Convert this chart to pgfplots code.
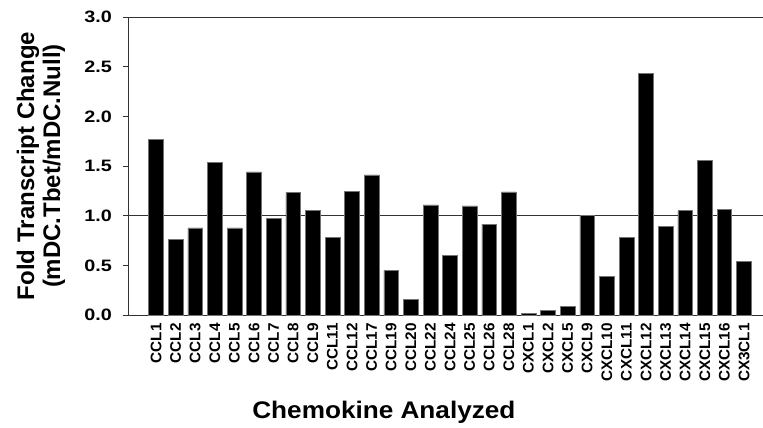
\documentclass[border=0pt]{standalone}
\usepackage{fontspec}
\setmainfont{Liberation Sans}
\newfontfamily\wideA[FakeStretch=1.2]{Liberation Sans}
\newfontfamily\wideB[FakeStretch=1.09]{Liberation Sans}
\usepackage{pgfplots}
\pgfplotsset{compat=1.18}
\begin{document}
\begin{tikzpicture}
\path[use as bounding box] (-128pt,-113pt) rectangle (635pt,315pt);
\begin{axis}[
  scale only axis,
  width=635pt, height=298pt,
  xmin=-1.43, xmax=30.97,
  ymin=0, ymax=3,
  axis x line=bottom, axis y line=left,
  axis line style={-, black!80, line width=0.8pt},
  ytick={0,0.5,...,3.0},
  xtick={0,...,30},
  xticklabels={CCL1,CCL2,CCL3,CCL4,CCL5,CCL6,CCL7,CCL8,CCL9,CCL11,CCL12,CCL17,CCL19,CCL20,CCL22,CCL24,CCL25,CCL26,CCL28,CXCL1,CXCL2,CXCL5,CXCL9,CXCL10,CXCL11,CXCL12,CXCL13,CXCL14,CXCL15,CXCL16,CX3CL1},
  x tick style={draw=none},
  y tick style={black!80, line width=0.8pt},
  tick align=outside,
  major tick length=5pt,
  /pgf/number format/assume math mode=true,
  yticklabel style={/pgf/number format/.cd, fixed, fixed zerofill, precision=1, /tikz/.cd, font=\wideA\bfseries\fontsize{16.5}{18}\selectfont, inner sep=0pt, xshift=-11pt},
  xticklabel style={rotate=90, anchor=east, inner sep=0pt, xshift=-3pt, font=\bfseries\fontsize{15.3}{17}\selectfont},
  extra y ticks={1,3},
  extra y tick labels={},
  extra y tick style={grid=major, major grid style={black!80, line width=0.8pt}, major tick length=0pt},
  ylabel={Fold Transcript Change\\(mDC.Tbet/mDC.Null)},
  ylabel style={at={(axis description cs:-0.137,0.5)}, anchor=center, align=center, font=\bfseries\fontsize{24}{26}\selectfont},
  xlabel={Chemokine Analyzed},
  xlabel style={at={(axis description cs:0.403,-0.3255)}, anchor=center, font=\wideB\bfseries\fontsize{24}{26}\selectfont},
  clip=false,
]
\addplot[ybar, bar width=0.75, fill=black, draw=black!55, line width=0.5pt] coordinates {
(0,1.765) (1,0.765) (2,0.876) (3,1.538) (4,0.876) (5,1.44) (6,0.974) (7,1.232) (8,1.05) (9,0.785)
(10,1.242) (11,1.41) (12,0.45) (13,0.161) (14,1.108) (15,0.597) (16,1.098) (17,0.916) (18,1.239)
(19,0.017) (20,0.043) (21,0.087) (22,1.0) (23,0.39) (24,0.782) (25,2.43) (26,0.89) (27,1.05)
(28,1.56) (29,1.067) (30,0.537)
};
\end{axis}
\end{tikzpicture}
\end{document}
